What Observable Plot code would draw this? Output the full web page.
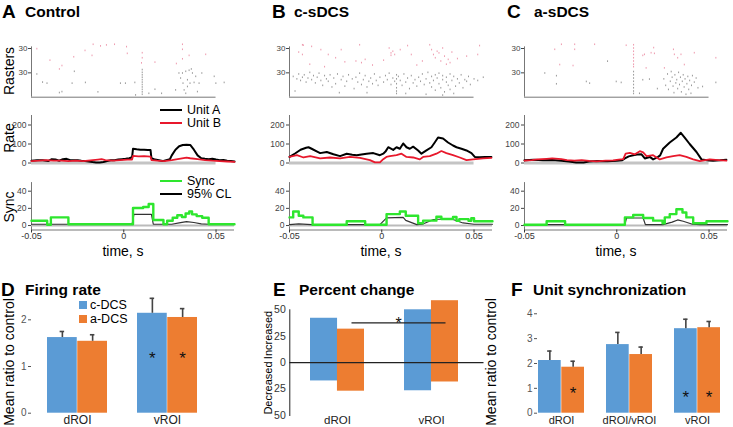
<!DOCTYPE html>
<html><head><meta charset="utf-8">
<script src="https://cdn.jsdelivr.net/npm/d3@7"></script>
<script src="https://cdn.jsdelivr.net/npm/@observablehq/plot@0.6"></script>
<style>
body{margin:0;background:#fff;}
#fig{position:relative;width:733px;height:427px;overflow:hidden;background:#fff;font-family:"Liberation Sans",Arial,Helvetica,sans-serif;color:#000;}
#fig svg{position:absolute;overflow:visible;background:transparent;}
.lbl{position:absolute;white-space:nowrap;line-height:1;}
</style></head><body><div id="fig"></div>
<script>
// ---------------- DATA ----------------
// time in ms (axis labelled in seconds), raster rows: unit A rows 0-30, unit B rows 30-60
const timeTicks = [-50, 0, 50];
const rasterRowTicks = [30, 60];

const rasterA_unitB = [[-47.1,59.2],[-16.6,64.6],[-12.6,62.6],[-9.4,63.8],[-5,64.6],[1.5,61.7],[1.9,53.4],[-17.2,50.9],[-27.1,49.2],[-33.5,38.4],[-34.9,34.2],[10,54.2],[10,48],[9.6,41.7],[16.9,42.6],[28.5,40.9],[31.8,64.6],[31.8,58.4],[35.4,50.9],[44.4,52.2],[31.8,46.7],[-21,57],[-40,45]];
const rasterA_unitA = [[-47.1,28],[-41.6,16.7],[-34.9,5.1],[-33.5,6.3],[-28,16.7],[-26.8,31.3],[-20.8,17.6],[-1.8,16.7],[0.9,16.7],[6,17.6],[10,33.4],[10,30],[10,27],[10,24],[10,21],[10,18],[10,15],[10,12],[10,9],[10,6],[10,3],[16.9,9.2],[20.5,4.2],[28.1,8.4],[29.9,29.2],[30.8,23],[31.8,29.2],[32.1,16.7],[32.7,8.4],[33.6,31.3],[34.5,20.9],[35.4,32.6],[35.9,16.7],[36.6,34.2],[37.2,29.2],[38.1,17.6],[39,25.1],[39.9,6.3],[40.8,16.7],[42.3,29.2],[49,25.1],[49.9,16.7],[54.4,17.6],[6.4,2.2],[13.6,4.2],[33.6,4.2],[34.5,12.6],[-44,18],[-14,6]];

const rasterB_unitB = [[-43,64],[-42.5,63.5],[-45,55],[-43,52],[-39,40],[-33,58],[-31,37],[-29,52],[-22,58],[-20,43],[-14,44],[-12,64],[-11,42],[-9,46],[-5,39],[4,60],[5,54],[6,56],[5,51],[7,52],[10,58],[14,63],[16,52],[22,44],[26,64],[27,58],[28,52],[29,48],[30,56],[31,54],[32,44],[33,60],[34,50],[35,40],[36,46],[37,42],[38,55],[46,50],[52,52],[53,63],[-38,62],[19,39],[41,47],[-25,48],[1,45]];
const rasterB_unitA = [[-48,25],[-46,22],[-45,28],[-44,20],[-43,24],[-42,27],[-41,18],[-40,23],[-39,30],[-38,21],[-37,26],[-36,17],[-35,24],[-34,29],[-33,20],[-32,14],[-31,26],[-30,22],[-29,19],[-28,27],[-27,12],[-26,23],[-25,16],[-24,28],[-22,21],[-21,25],[-20,13],[-19,19],[-18,27],[-16,22],[-15,10],[-14,24],[-13,18],[-12,29],[-11,15],[-10,21],[-9,26],[-8,12],[-7,19],[-6,23],[-5,16],[-4,28],[-3,20],[-2,14],[-1,24],[1,18],[2,26],[3,21],[4,29],[5,15],[6,23],[7,19],[8,27],[8,22],[8,16],[8,11],[8,7],[8,4],[9,25],[10,20],[11,14],[12,28],[13,18],[14,23],[15,10],[16,26],[17,17],[18,21],[19,13],[20,24],[21,19],[22,28],[23,15],[24,22],[25,30],[26,17],[27,25],[27,12],[28,20],[29,27],[29,8],[30,23],[31,16],[31,29],[32,11],[33,21],[33,26],[34,6],[35,18],[35,24],[36,14],[37,28],[37,9],[38,20],[39,25],[40,13],[41,22],[42,17],[43,27],[44,11],[45,21],[46,19],[47,25],[48,15],[50,22],[52,20],[55,24],[-47,7],[-23,5],[-8,5],[13,4],[24,3],[33,2],[39,4]];

const rasterC_unitB = [[-30,64.6],[-22.8,64.6],[-22.8,58.4],[-33.6,58.4],[-30.9,39.6],[-23.7,38.4],[-12,64.6],[5.1,63.4],[9.1,64],[9.1,60],[9.1,56],[9.1,52],[9.1,48],[9.1,44],[9.1,40],[9.1,37],[15,52.2],[14.1,50.9],[18.6,54.2],[20,60.5],[20.4,53.4],[15.9,35.5],[30.7,58.4],[31.2,52.2],[34.8,52.2],[33,48],[36.6,39.6],[42,54.2],[53.7,48],[25.8,35.5]];
const rasterC_unitA = [[-39,29.2],[-32.7,25.9],[-32.7,15.9],[-16.5,18.8],[-14.7,16.7],[-0.3,18.8],[2.4,17.6],[-5,43.8],[9.1,31],[9.1,27],[9.1,23],[9.1,19],[9.1,15],[9.1,11],[9.1,7],[9.1,4],[14.1,20.9],[17.7,21.7],[12.3,4.2],[25.5,22],[26.5,14],[27.5,28],[28,9],[29,19],[29.5,31],[30,24],[30.5,13],[31,5],[31.5,27],[32,17],[32.5,21],[33,10],[33.5,30],[34,15],[34.5,24],[35,6],[35.5,19],[36,27],[36.5,12],[37,22],[37.5,3],[38,16],[38.5,25],[39,9],[39.5,20],[40.2,4.2],[40.5,14],[41,26],[42,18],[43,23],[44,11],[46.5,12.6],[53.7,17.6],[22,10]];

const rateA_unitA = [[-50,12],[-47,15],[-44,14],[-41,10],[-39,20],[-37,18],[-35,12],[-33,20],[-31,22],[-29,15],[-27,14],[-25,15],[-23,12],[-21,10],[-19,8],[-17,5],[-15,3],[-13,3],[-11,5],[-9,10],[-7,14],[-5,15],[-3,18],[-1,20],[1,22],[3,25],[4.5,30],[5,75],[7,72],[9,70],[11,70],[13,68],[14.5,68],[15,25],[17,18],[19,14],[21,10],[23,15],[25,20],[26,40],[28,70],[30,88],[32,95],[34,96],[36,95],[38,70],[40,40],[42,25],[44,22],[46,20],[48,22],[50,18],[52,15],[54,16],[56,12],[58,10],[60,8]];
const rateA_unitB = [[-50,10],[-46,12],[-42,15],[-38,12],[-34,12],[-30,10],[-26,12],[-22,10],[-18,14],[-14,18],[-12,20],[-10,15],[-6,12],[-2,15],[2,18],[4.5,18],[5,38],[8,35],[11,36],[14.5,34],[15,15],[18,12],[22,10],[26,15],[30,22],[34,28],[36,25],[40,20],[44,15],[48,12],[52,10],[56,8],[60,6]];
const rateB_unitA = [[-50,32],[-47,50],[-44,70],[-41,80],[-39.7,83],[-38,75],[-35,60],[-33.4,52],[-29.8,58],[-26.2,46],[-22.6,36],[-19,49],[-16,44],[-13.6,41],[-11,45],[-8.2,49],[-4.6,52],[-1,41],[0.8,49],[2,60],[3.5,83],[6.2,69],[8,83],[9.8,75],[11.6,103],[13.4,83],[15.2,75],[17,86],[19.7,66],[21.5,49],[24.2,66],[26.9,83],[28.7,108],[30.5,134],[33.2,129],[35.9,108],[38.6,92],[40.5,83],[43.2,75],[45.9,66],[48.6,52],[50.4,32],[53.1,30],[56,31],[59.4,32]];
const rateB_unitB = [[-50,32],[-46,41],[-42.4,29],[-38.8,36],[-33.4,24],[-28,29],[-22.6,24],[-17.2,32],[-11.8,27],[-6.4,15],[-3.7,3],[-1,3],[0.8,20],[2.5,32],[4.4,36],[8,41],[10.7,49],[13.4,32],[17,29],[20.6,19],[22.4,32],[26,36],[29.6,49],[32.3,63],[35,52],[38.6,41],[42.3,29],[45.9,15],[49.5,19],[54.9,24],[59.4,27]];
const rateC_unitA = [[-50,15],[-45,17],[-40,14],[-35,16],[-30,12],[-26,8],[-22,3],[-18,3],[-15,8],[-10,10],[-5,9],[0,12],[3,15],[4.4,24],[6.5,35],[8.9,41],[11,45],[13.4,46],[15.2,24],[17.9,32],[19.7,19],[22.4,32],[23.5,40],[25.1,75],[28.7,108],[32.3,134],[34.7,159],[36.8,134],[39.5,100],[43.2,58],[45.9,19],[50,13],[52.2,12],[56,14],[59.4,17]];
const rateC_unitB = [[-50,12],[-46,15],[-43,19],[-38,22],[-35,24],[-30,20],[-27,15],[-23,12],[-19,15],[-15,11],[-11,9],[-6,12],[-2,14],[1,18],[3.5,20],[4.8,49],[7.1,53],[9.8,46],[12.5,62],[14.3,56],[16.1,36],[19.7,41],[23.3,19],[26.9,29],[30.5,36],[34.1,41],[37.7,32],[41.4,19],[45,10],[50.4,19],[55,15],[59.4,12]];

const syncA = [[-50,5.5],[-41.5,1],[-39.5,9.5],[-30,1.5],[5,20.5],[10.5,21.5],[13.5,25],[16,6.5],[21.5,1.5],[23.5,5.5],[26.5,9],[29,12],[31.5,10],[33.5,14],[35.5,16.5],[37,13],[39.5,11],[42.5,9],[46,1.5],[60,1.5]];
const clA = [[-50,1.5],[4.5,1.5],[5.5,13],[15,13],[16,1.5],[26,1.5],[30,3],[34,4.5],[38,3.5],[42,2],[46,1.5],[60,1.5]];
const syncB = [[-50,9.5],[-48,16.4],[-45,11.4],[-42.5,9.5],[-37.5,1],[-19,5],[-9,1],[2.6,13.3],[9.8,16.4],[13,11.4],[19.7,2.7],[22.4,5.7],[29.6,10.3],[32.3,7.6],[38.6,10],[40.5,5.5],[42,7.5],[47,5.5],[48.5,8.5],[50,5],[60,5]];
const clB = [[-50,1],[-45,2],[-38,1],[-1,1],[2.6,9],[11.6,9.5],[13,6],[19,1],[22,1.5],[28,7],[34,7.6],[38.6,7],[44,3],[50,1.5],[60,1.5]];
const syncC = [[-50,1],[-38,5],[-28,1],[4.4,9.5],[8.9,12.2],[14.3,8.8],[19.7,5.7],[24.8,2.7],[26,9.5],[28.7,13.3],[32.3,19],[35.6,15.2],[37.7,9.5],[41.4,2.7],[48.6,5],[60,5]];
const clC = [[-50,1],[4.4,1],[5.3,8.8],[14.3,8.8],[15.5,1],[25,1],[30,4],[33,6.5],[36,5],[41,1.5],[45,1],[60,1]];

// Firing rate (D)
const frRegions = ["dROI", "vROI"];
const frC = [1.62, 2.14], frCErr = [1.75, 2.46];
const frA = [1.54, 2.05], frAErr = [1.68, 2.24];
const frStarsC = [null, 1.28], frStarsA = [null, 1.28];
// Percent change (E)
const pcRegions = ["dROI", "vROI"];
const pcIncC = [42, 50], pcIncA = [31.7, 58.6];
const pcDecC = [17.3, 26.6], pcDecA = [27, 18.3];
const pcSigY = 37.7;
// Unit synchronization (F)
const usRegions = ["dROI", "dROI/vROI", "vROI"];
const usC = [2.12, 2.76, 3.4], usCErr = [2.5, 3.25, 3.78];
const usA = [1.85, 2.36, 3.44], usAErr = [2.09, 2.66, 3.69];
const usStarsC = [null, null, 0.85], usStarsA = [1.0, null, 0.85];

// ---------------- LAYOUT ----------------
const FONT = "'Liberation Sans', Arial, Helvetica, sans-serif";
const BLUE = "#5b9bd5", ORANGE = "#ed7d31", RED = "#e8182c", GREEN = "#2ee62e";
const fig = document.getElementById("fig");
function put(el, left, top) { el.style.position = "absolute"; el.style.left = left + "px"; el.style.top = top + "px"; fig.appendChild(el); return el; }
function text(t, x, y, css, anchor) {
  const d = document.createElement("div"); d.className = "lbl"; d.textContent = t;
  Object.assign(d.style, css || {});
  d.style.transform = anchor === "c" ? "translate(-50%,-50%)" : "translate(0,-50%)";
  if (anchor === "rot") d.style.transform = "translate(-50%,-50%) rotate(-90deg)";
  return put(d, x, y);
}
function legLine(x, y, color, w) { const d = document.createElement("div"); d.style.width = "22px"; d.style.height = "0"; d.style.borderTop = w + "px solid " + color; return put(d, x, y - w / 2); }
function legBox(x, y, color) { const d = document.createElement("div"); d.style.width = "8px"; d.style.height = "8px"; d.style.background = color; return put(d, x, y - 4); }
const style = {fontFamily: FONT, background: "transparent", overflow: "visible", color: "#222"};
const pairs = arr => arr.map(([t, v]) => ({t, v}));
const tx = d => d.t, vy = d => d.v;
const xd = [-50, 60];
const fmtT = d => d === 0 ? "0" : String(d / 1000);

const panels = [
  {left: 0, letter: "A", title: "Control", lx: 2, tx: 25, rA: rasterA_unitA, rB: rasterA_unitB, uA: rateA_unitA, uB: rateA_unitB, s: syncA, c: clA},
  {left: 258, letter: "B", title: "c-sDCS", lx: 272, tx: 294, rA: rasterB_unitA, rB: rasterB_unitB, uA: rateB_unitA, uB: rateB_unitB, s: syncB, c: clB},
  {left: 493, letter: "C", title: "a-sDCS", lx: 507, tx: 534, rA: rasterC_unitA, rB: rasterC_unitB, uA: rateC_unitA, uB: rateC_unitB, s: syncC, c: clC}
];
const W = 240, ML = 31, MR = 6;
for (const p of panels) {
  text(p.letter, p.lx, 11, {fontSize: "19px", fontWeight: "bold"});
  text(p.title, p.tx, 11.5, {fontSize: "15.5px", fontWeight: "bold"});
  const ras = Plot.plot({
    width: W, height: 62, marginLeft: ML, marginRight: MR, marginTop: 8, marginBottom: 5.3, style,
    x: {domain: xd, axis: null}, y: {domain: [0, 60]},
    marks: [
      Plot.ruleX([-50], {y1: 0, y2: 62, stroke: "#777"}),
      Plot.ruleY([0], {x1: -50, x2: 50, stroke: "#777"}),
      Plot.axisY({ticks: rasterRowTicks, tickFormat: () => "30", tickSize: 3, tickPadding: 1, fontSize: 8, color: "#444", label: null}),
      Plot.ruleX(pairs(p.rB), {x: tx, y1: d => d.v - 1, y2: d => d.v + 1, stroke: "#e0456a", strokeOpacity: 0.55}),
      Plot.ruleX(pairs(p.rA), {x: tx, y1: d => d.v - 1, y2: d => d.v + 1, stroke: "#333", strokeOpacity: 0.5})
    ]
  });
  put(ras, p.left, 40);
  const rate = Plot.plot({
    width: W, height: 60, marginLeft: ML, marginRight: MR, marginTop: 7, marginBottom: 5.5, style,
    x: {domain: xd, axis: null}, y: {domain: [0, 250]},
    marks: [
      Plot.ruleX([-50], {y1: 0, y2: 250, stroke: "#777"}),
      Plot.axisY({ticks: [0, 100, 200], tickSize: 3, tickPadding: 2, fontSize: 8.5, color: "#444", label: null}),
      Plot.ruleY([0], {x1: -50, x2: 50, stroke: "#c4c4c4", strokeWidth: 3}),
      Plot.line(pairs(p.uA), {x: tx, y: vy, stroke: "#000", strokeWidth: 2}),
      Plot.line(pairs(p.uB), {x: tx, y: vy, stroke: RED, strokeWidth: 1.8})
    ]
  });
  put(rate, p.left, 108);
  const sync = Plot.plot({
    width: W, height: 80, marginLeft: ML, marginRight: MR, marginTop: 6.1, marginBottom: 26.5, style,
    x: {domain: xd}, y: {domain: [-5.2, 50]},
    marks: [
      Plot.ruleX([-50], {y1: -5.2, y2: 50, stroke: "#777"}),
      Plot.ruleY([-5.2], {x1: -50, x2: 60, stroke: "#777"}),
      Plot.axisY({ticks: [0, 20, 40], tickSize: 3, tickPadding: 2, fontSize: 8.5, color: "#444", label: null}),
      Plot.axisX({ticks: timeTicks, tickFormat: fmtT, tickSize: 3, tickPadding: 0, fontSize: 9, color: "#333", label: null}),
      Plot.ruleY([0], {x1: -50, x2: 60, stroke: "#bbb", strokeWidth: 2}),
      Plot.line(pairs(p.c), {x: tx, y: vy, stroke: "#333", strokeWidth: 1.2}),
      Plot.line(pairs(p.s), {x: tx, y: vy, stroke: GREEN, strokeWidth: 2.4, curve: "step-after"})
    ]
  });
  put(sync, p.left, 176);
  text("time, s", p.left + ML + 92, 251, {fontSize: "14px"}, "c");
}
// axis titles of panel A
text("Rasters", 9, 71, {fontSize: "14px"}, "rot");
text("Rate", 9, 138, {fontSize: "14px"}, "rot");
text("Sync", 9, 207, {fontSize: "14px"}, "rot");
// legends
legLine(160, 109.5, "#000", 2); text("Unit A", 187, 109.5, {fontSize: "12.5px"});
legLine(160, 123, RED, 2); text("Unit B", 187, 123, {fontSize: "12.5px"});
legLine(160, 181, GREEN, 2.4); text("Sync", 187, 181, {fontSize: "12.5px"});
legLine(160, 194, "#000", 2); text("95% CL", 187, 194, {fontSize: "12.5px"});

// ---------------- Bottom panels ----------------
function ratioRows(regions, c, cE, a, aE, sC, sA) {
  return regions.flatMap((r, i) => [
    {region: r, cond: "c", value: c[i], err: cE[i], star: sC[i]},
    {region: r, cond: "a", value: a[i], err: aE[i], star: sA[i]}
  ]);
}
function ratioPanel(o) {
  const rows = ratioRows(o.regions, o.c, o.cE, o.a, o.aE, o.sC, o.sA);
  const half = o.bw / 2, q = o.bw / 4;
  const C = rows.filter(d => d.cond === "c"), A = rows.filter(d => d.cond === "a");
  const svg = Plot.plot({
    width: o.width, height: 142, marginLeft: o.ml, marginRight: o.mr, marginTop: o.mt, marginBottom: 14.3, style,
    x: {domain: o.regions, paddingInner: o.pi, paddingOuter: o.po},
    y: {domain: [0, o.ymax]},
    marks: [
      Plot.axisY({ticks: o.ticks, tickFormat: d => String(d), tickSize: 3, tickPadding: 2, fontSize: 10, color: "#555", label: null}),
      Plot.axisX({tickSize: 0, tickPadding: 2.5, fontSize: o.fx, color: "#222", label: null}),
      Plot.barY(C, {x: "region", y: "value", fill: BLUE, insetRight: half}),
      Plot.barY(A, {x: "region", y: "value", fill: ORANGE, insetLeft: half}),
      Plot.ruleX(C, {x: "region", y1: "value", y2: "err", dx: -q, stroke: "#444", strokeWidth: 1.6}),
      Plot.ruleX(A, {x: "region", y1: "value", y2: "err", dx: q, stroke: "#444", strokeWidth: 1.6}),
      Plot.tickY(C, {x: "region", y: "err", insetLeft: q - 2.5, insetRight: 3 * q - 2.5, stroke: "#444", strokeWidth: 1.6}),
      Plot.tickY(A, {x: "region", y: "err", insetLeft: 3 * q - 2.5, insetRight: q - 2.5, stroke: "#444", strokeWidth: 1.6}),
      Plot.text(C.filter(d => d.star != null), {x: "region", y: "star", text: () => "*", dx: -q, dy: 5, fontSize: 17, fill: "#111"}),
      Plot.text(A.filter(d => d.star != null), {x: "region", y: "star", text: () => "*", dx: q, dy: 5, fontSize: 17, fill: "#111"})
    ]
  });
  return put(svg, o.left, 285);
}
// D
text("D", 1, 289, {fontSize: "19px", fontWeight: "bold"});
text("Firing rate", 25, 289.5, {fontSize: "15.5px", fontWeight: "bold"});
ratioPanel({regions: frRegions, c: frC, cE: frCErr, a: frA, aE: frAErr, sC: frStarsC, sA: frStarsA,
  left: 0, width: 225, ml: 31, mr: 12.8, mt: 6.3, ymax: 2.6, ticks: [0, 1, 2], pi: 0.333, po: 0.165, bw: 60.5, fx: 12});
text("Mean ratio to control", 9, 362, {fontSize: "14px"}, "rot");
legBox(79, 305, BLUE); text("c-DCS", 90, 305, {fontSize: "12.5px"});
legBox(79, 319, ORANGE); text("a-DCS", 90, 319, {fontSize: "12.5px"});

// E
text("E", 273, 289, {fontSize: "19px", fontWeight: "bold"});
text("Percent change", 299, 289.5, {fontSize: "15.5px", fontWeight: "bold"});
{
  const rows = pcRegions.map((r, i) => ({region: r, incC: pcIncC[i], incA: pcIncA[i], decC: pcDecC[i], decA: pcDecA[i]}));
  const bw = 53.9, half = bw / 2;
  const svg = Plot.plot({
    width: 250, height: 142, marginLeft: 49.3, marginRight: 12.5, marginTop: 24.3, marginBottom: 12, style,
    x: {domain: pcRegions, paddingInner: 0.4286, paddingOuter: 0.2116},
    y: {domain: [-50, 50]},
    marks: [
      Plot.barY(rows, {x: "region", y: "incC", fill: BLUE, insetRight: half}),
      Plot.barY(rows, {x: "region", y: "incA", fill: ORANGE, insetLeft: half}),
      Plot.barY(rows, {x: "region", y: d => -d.decC, fill: BLUE, insetRight: half}),
      Plot.barY(rows, {x: "region", y: d => -d.decA, fill: ORANGE, insetLeft: half}),
      Plot.ruleY([0], {stroke: "#222", strokeWidth: 1.1, insetRight: -6}),
      Plot.frame({anchor: "left", stroke: "#222"}),
      Plot.axisY({ticks: [-50, -25, 0, 25, 50], tickFormat: d => String(Math.abs(d)), tickSize: 0, tickPadding: 4, fontSize: 10.5, color: "#333", label: null}),
      Plot.axisX({tickSize: 0, tickPadding: 0, fontSize: 11.5, color: "#222", label: null}),
      Plot.link([{a: "dROI", b: "vROI"}], {x1: "a", x2: "b", y1: pcSigY, y2: pcSigY, dx: 14, stroke: "#222", strokeWidth: 1.2}),
      Plot.text([{a: "dROI"}], {x: "a", y: pcSigY, text: () => "*", dx: 61, dy: 1, fontSize: 16, fill: "#111"})
    ]
  });
  put(svg, 240, 285);
}
text("Increased", 268, 334.5, {fontSize: "11px"}, "rot");
text("Decreased", 268, 387.5, {fontSize: "11px"}, "rot");

// F
text("F", 511, 289, {fontSize: "19px", fontWeight: "bold"});
text("Unit synchronization", 533, 289.5, {fontSize: "15.5px", fontWeight: "bold"});
ratioPanel({regions: usRegions, c: usC, cE: usCErr, a: usA, aE: usAErr, sC: usStarsC, sA: usStarsA,
  left: 480, width: 253, ml: 57, mr: 11.3, mt: 23.3, ymax: 4.2, ticks: [0, 1, 2, 3, 4], pi: 0.325, po: 0.02, bw: 46.6, fx: 11});
text("Mean ratio to control", 491, 362, {fontSize: "14px"}, "rot");
</script></body></html>
